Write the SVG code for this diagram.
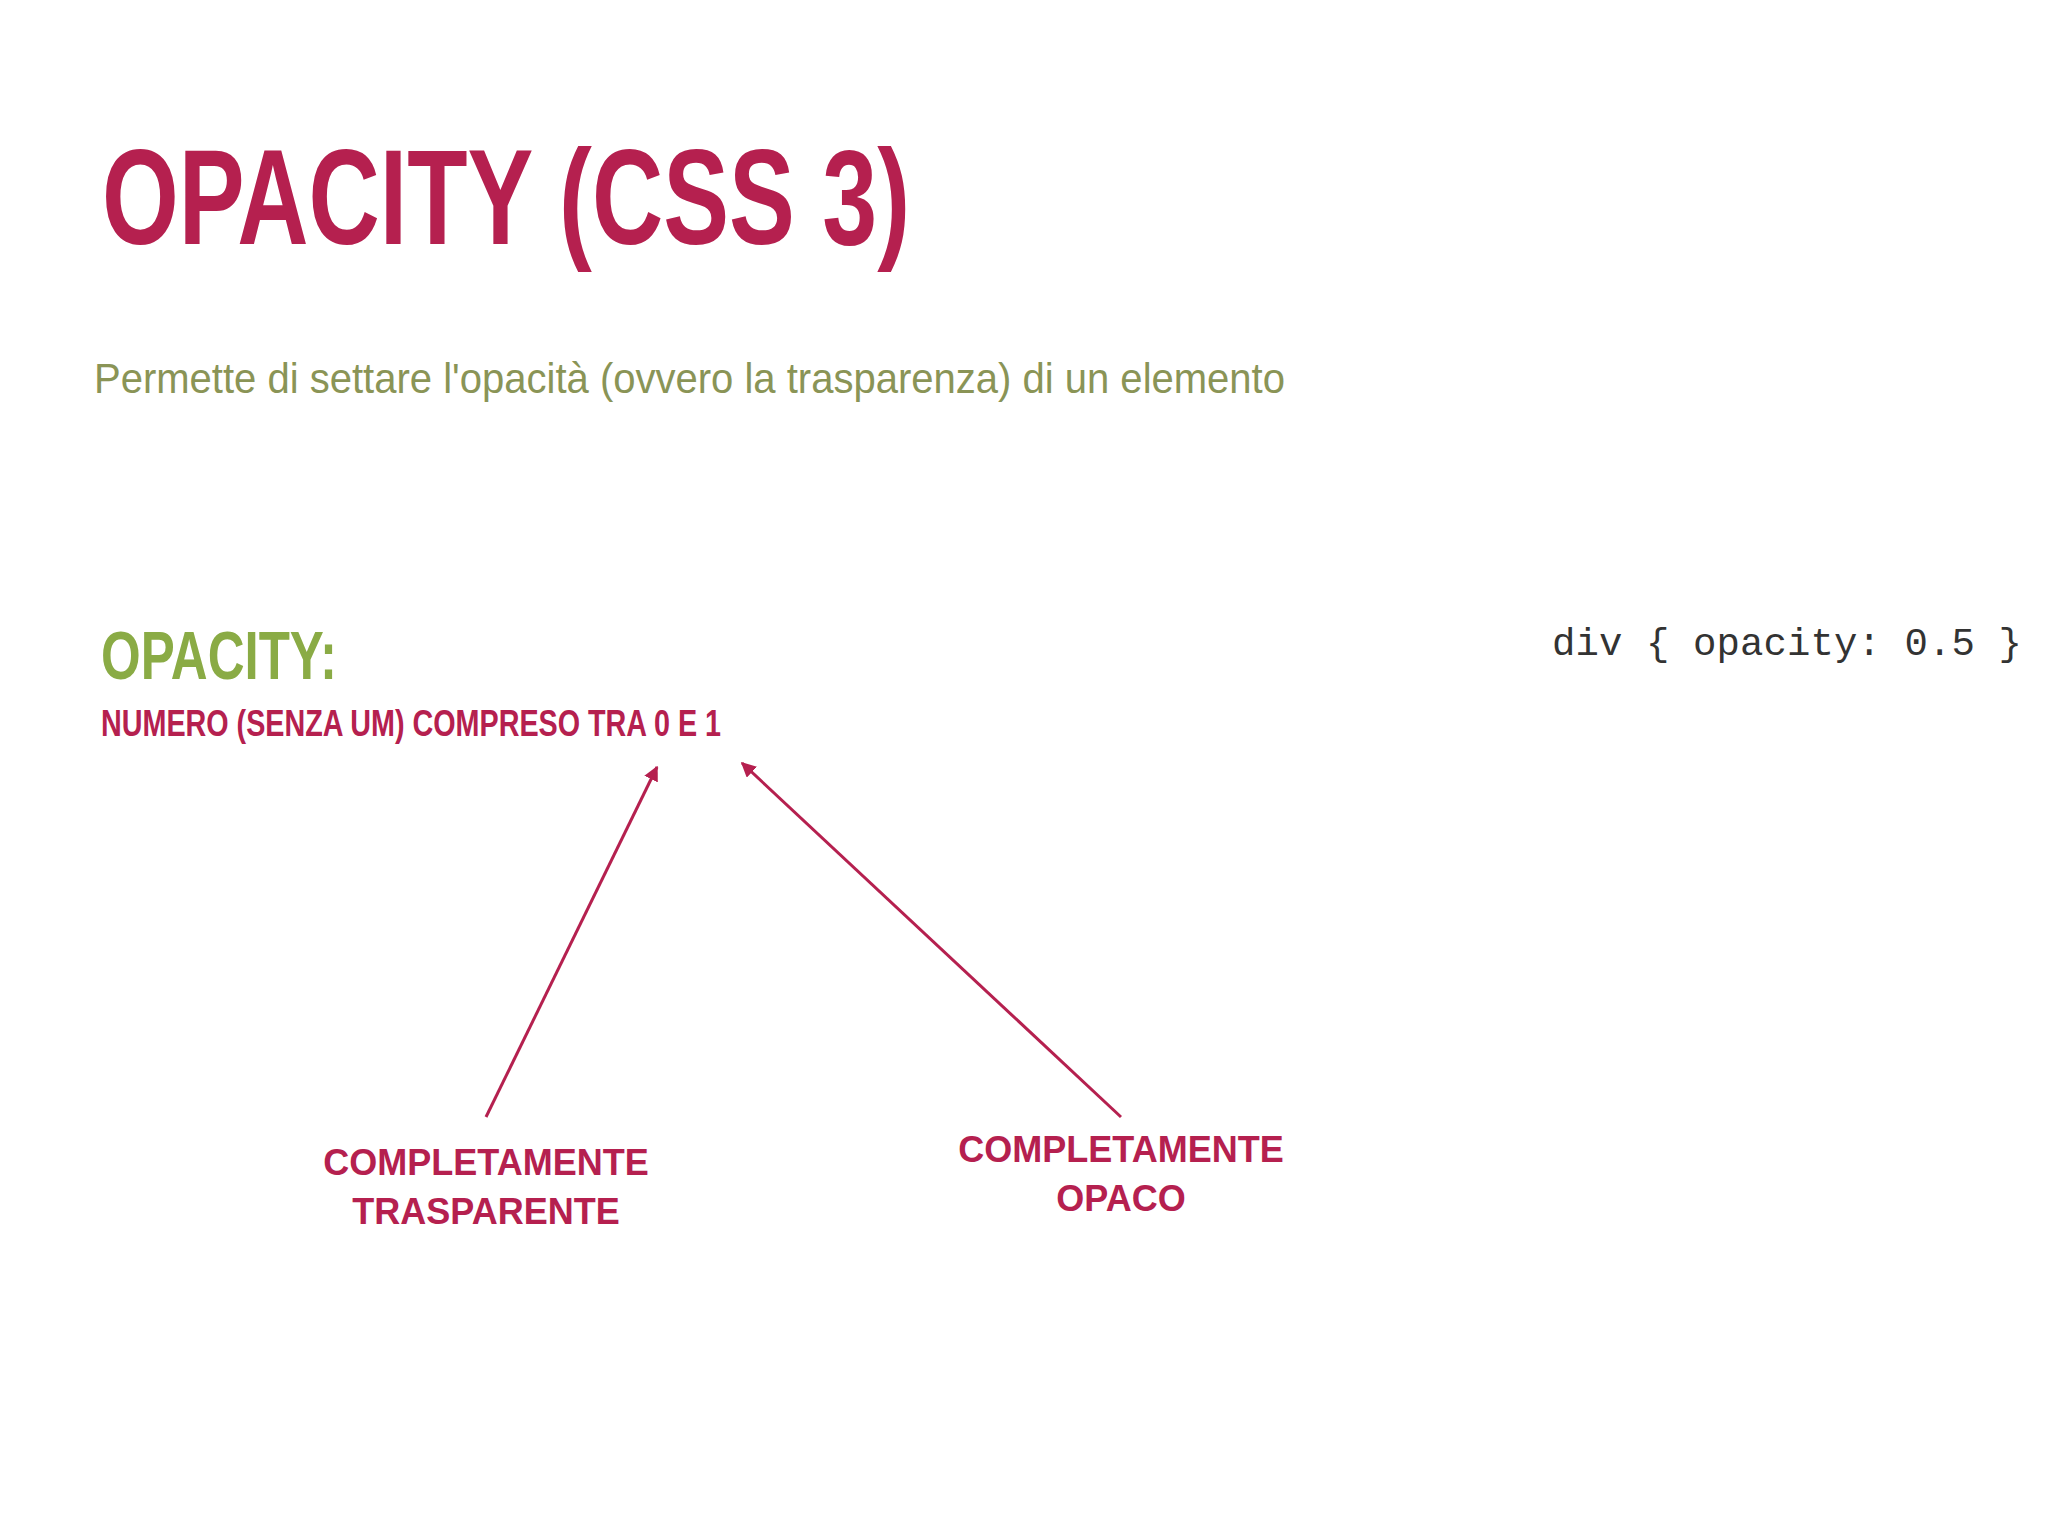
<svg xmlns="http://www.w3.org/2000/svg" width="2048" height="1536" viewBox="0 0 2048 1536">
<style>
.n{font-family:"Liberation Sans Narrow","Liberation Sans",sans-serif;font-weight:bold}
.m{fill:#b5204f}
.lab{font-size:36px;text-anchor:middle}
</style>
<defs><marker id="ah" viewBox="0 0 10 10" refX="9" refY="5" markerWidth="5" markerHeight="5" orient="auto"><path d="M0,0L10,5L0,10z" fill="#b5204f"/></marker></defs>
<rect width="2048" height="1536" fill="#ffffff"/>
<g id="title"><text class="n m" x="102" y="244" font-size="136" textLength="808" lengthAdjust="spacingAndGlyphs">OPACITY (CSS 3)</text></g>
<g id="subtitle"><text x="94" y="393" font-family="Liberation Sans Narrow,Liberation Sans,sans-serif" font-size="42" fill="#8a9456" textLength="1191" lengthAdjust="spacingAndGlyphs">Permette di settare l'opacità (ovvero la trasparenza) di un elemento</text></g>
<g id="prop"><text class="n" x="101" y="679" font-size="68" fill="#8aab45" textLength="236" lengthAdjust="spacingAndGlyphs">OPACITY:</text>
<text class="n m" x="101" y="736" font-size="36" textLength="620" lengthAdjust="spacingAndGlyphs">NUMERO (SENZA UM) COMPRESO TRA 0 E 1</text></g>
<g id="code"><text x="1552" y="655" font-family="Liberation Mono,monospace" font-size="39" fill="#333" textLength="470">div { opacity: 0.5 }</text></g>
<g id="connectors" stroke="#b5204f" stroke-width="3" fill="none">
<line x1="486" y1="1117" x2="657" y2="767" marker-end="url(#ah)"/>
<line x1="1121" y1="1117" x2="742" y2="763" marker-end="url(#ah)"/>
</g>
<g id="left"><text class="n m lab" x="486" y="1175">COMPLETAMENTE</text><text class="n m lab" x="486" y="1224">TRASPARENTE</text></g>
<g id="right"><text class="n m lab" x="1121" y="1162">COMPLETAMENTE</text><text class="n m lab" x="1121" y="1211">OPACO</text></g>
</svg>
